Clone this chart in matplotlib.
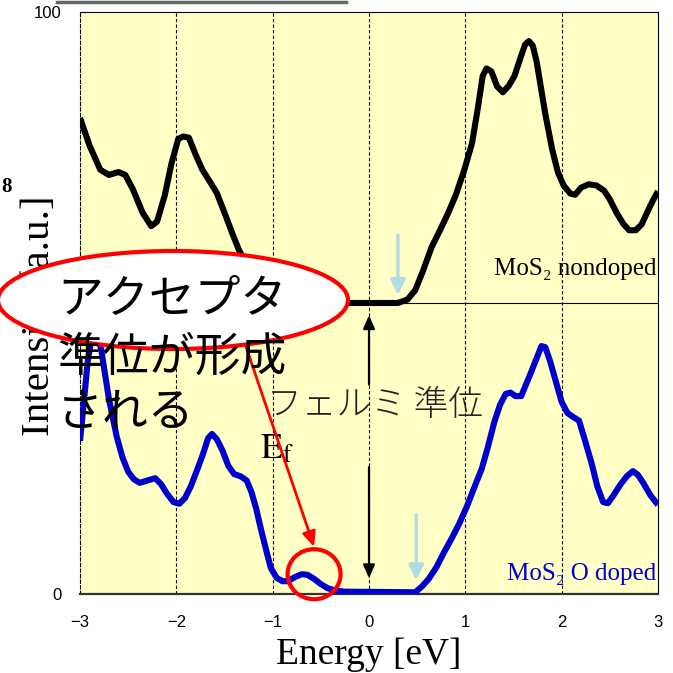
import matplotlib
matplotlib.use("Agg")
import matplotlib.pyplot as plt
from matplotlib.patches import Ellipse
from matplotlib.lines import Line2D

plt.rcParams["mathtext.fontset"] = "stix"

# spectra (energy in eV, intensity in a.u.)
energy_nondoped = [
    -3.00, -2.90, -2.79, -2.70, -2.60, -2.53, -2.45, -2.35, -2.26, -2.20,
    -2.12, -2.05, -1.98, -1.93, -1.87, -1.80, -1.73, -1.65, -1.58, -1.50,
    -1.42, -1.35, -1.25, -1.10, -0.95, -0.80, 0.30, 0.40, 0.48, 0.56,
    0.65, 0.74, 0.82, 0.90, 0.99, 1.07, 1.13, 1.18, 1.22, 1.27,
    1.33, 1.39, 1.45, 1.51, 1.57, 1.62, 1.66, 1.70, 1.74, 1.78, 1.83,
    1.90, 1.96, 2.02, 2.09, 2.14, 2.20, 2.28, 2.36, 2.44, 2.50,
    2.57, 2.64, 2.70, 2.77, 2.83, 2.90, 2.95, 3.00,
]
intensity_nondoped = [
    81.8, 77.0, 72.9, 72.0, 72.5, 72.0, 69.5, 65.5, 63.2, 64.0,
    68.5, 74.0, 78.2, 78.6, 78.4, 75.5, 72.9, 70.8, 68.9, 65.5,
    62.0, 59.1, 56.0, 52.5, 50.6, 50.0, 50.0, 50.6, 52.2, 55.5,
    59.6, 62.6, 65.4, 68.5, 72.9, 77.5, 83.5, 89.0, 90.3, 89.8,
    87.2, 86.2, 87.3, 89.0, 92.0, 94.4, 95.0, 94.2, 91.5, 87.5, 82.5,
    76.5, 72.5, 70.2, 68.8, 68.6, 69.8, 70.4, 70.2, 69.3, 67.8,
    65.5, 63.6, 62.5, 62.5, 63.5, 66.0, 67.7, 69.2,
]

energy_doped = [
    -3.00, -2.96, -2.92, -2.88, -2.82, -2.78, -2.70, -2.62, -2.56, -2.50,
    -2.44, -2.38, -2.30, -2.22, -2.16, -2.10, -2.03, -1.97, -1.91, -1.85,
    -1.78, -1.72, -1.67, -1.63, -1.58, -1.52, -1.46, -1.40, -1.33, -1.27,
    -1.22, -1.17, -1.12, -1.07, -1.02, -0.96, -0.90, -0.84, -0.77, -0.70,
    -0.64, -0.57, -0.50, -0.43, -0.35, -0.25, 0.48, 0.55, 0.62, 0.70,
    0.78, 0.86, 0.94, 1.02, 1.10, 1.17, 1.23, 1.30, 1.36, 1.42,
    1.47, 1.52, 1.58, 1.63, 1.68, 1.74, 1.79, 1.83, 1.88, 1.94,
    2.00, 2.06, 2.12, 2.18, 2.24, 2.31, 2.37, 2.43, 2.48, 2.54,
    2.61, 2.68, 2.74, 2.79, 2.85, 2.92, 3.00,
]
intensity_doped = [
    26.3, 33.0, 40.0, 44.0, 44.5, 42.0, 33.5, 27.1, 23.5, 21.0,
    19.7, 19.1, 19.5, 19.9, 18.9, 17.3, 15.8, 15.5, 16.5, 18.5,
    21.5, 24.2, 26.8, 27.5, 26.6, 24.6, 22.0, 20.6, 20.2, 19.5,
    17.5, 14.6, 11.0, 7.7, 4.5, 2.8, 2.2, 2.2, 2.9, 3.4,
    3.3, 2.6, 1.7, 1.0, 0.6, 0.4, 0.3, 1.3, 2.6, 4.6,
    7.2, 9.6, 12.2, 15.2, 18.6, 21.5, 25.0, 29.5, 32.5, 34.4,
    34.6, 34.0, 34.0, 36.0, 38.0, 40.5, 42.6, 42.4, 40.0, 36.5,
    33.0, 31.1, 30.4, 29.8, 26.5, 22.5, 18.5, 15.8, 15.6, 17.0,
    18.8, 20.3, 21.1, 20.5, 19.0, 17.0, 15.3,
]

x_ticks = [-3, -2, -1, 0, 1, 2, 3]
x_tick_labels = ["\u22123", "\u22122", "\u22121", "0", "1", "2", "3"]
y_ticks = [0, 100]
nondoped_offset = 50
fermi_level = 0.0
cbm_nondoped = 0.30
cbm_doped = 0.49
acceptor_peak = (-0.57, 3.4)

serif = ["Liberation Serif", "DejaVu Serif"]
jp = ["Noto Sans CJK JP", "DejaVu Sans"]

fig = plt.figure(figsize=(6.73, 6.73), dpi=100)
ax = fig.add_axes([0.1189, 0.1174, 0.8588, 0.8648])
ax.set_facecolor("#FFFFC6")

ax.plot(energy_nondoped, intensity_nondoped, color="black", lw=4.4,
        solid_joinstyle="round", solid_capstyle="butt", zorder=4)
ax.plot(energy_doped, intensity_doped, color="#0000CC", lw=4.4,
        solid_joinstyle="round", solid_capstyle="butt", zorder=4)
ax.axhline(nondoped_offset, color="black", lw=0.8, zorder=3)

for xv in x_ticks[1:-1]:
    ax.axvline(xv, color="black", lw=0.8, ls=(0, (3, 2)), zorder=1)

ax.set_xlim(-3, 3)
ax.set_ylim(0, 100)
ax.set_xticks(x_ticks)
ax.set_xticklabels(x_tick_labels, family="Liberation Sans", fontsize=12)
ax.set_yticks(y_ticks)
ax.set_yticklabels([str(v) for v in y_ticks], family="Liberation Sans", fontsize=12)
ax.tick_params(axis="x", length=0, pad=15)
ax.tick_params(axis="y", length=0, pad=13)

ax.spines["left"].set_linestyle((0, (3, 2)))
ax.spines["left"].set_linewidth(0.8)
ax.spines["top"].set_linewidth(0.8)
ax.spines["right"].set_linewidth(0.8)
ax.spines["bottom"].set_linewidth(1.6)
ax.spines["bottom"].set_color("#333333")

ax.set_xlabel("Energy [eV]", family=serif, fontsize=27)
ax.xaxis.set_label_coords(0.5, -0.075)
ax.set_ylabel("Intensity [a.u.]", family=serif, fontsize=29.5)
ax.yaxis.set_label_coords(-0.038, 0.478)

# band-edge markers
arrow_blue = dict(arrowstyle="-|>,head_length=0.9,head_width=0.45",
                  color="#B0DDE4", lw=2.4, shrinkA=0, shrinkB=0)
ax.annotate("", xy=(cbm_nondoped, 51.4), xytext=(cbm_nondoped, 61.7),
            arrowprops=arrow_blue, zorder=5)
ax.annotate("", xy=(cbm_doped, 2.4), xytext=(cbm_doped, 13.6),
            arrowprops=arrow_blue, zorder=5)

# Fermi level double arrow (split around the label)
arrow_black = dict(arrowstyle="-|>,head_length=0.8,head_width=0.35",
                   color="black", lw=1.6, shrinkA=0, shrinkB=0)
ax.annotate("", xy=(fermi_level, 47.9), xytext=(fermi_level, 36.0),
            arrowprops=arrow_black, zorder=5)
ax.annotate("", xy=(fermi_level, 2.7), xytext=(fermi_level, 21.8),
            arrowprops=arrow_black, zorder=5)

ax.text(0.06, 32.5, "\u30d5\u30a7\u30eb\u30df \u6e96\u4f4d", family=jp,
        fontsize=25, fontweight="light", color="#222222",
        ha="center", va="center", zorder=6)
ax.text(-0.95, 25.0, r"$\mathrm{E}_{\mathrm{f}}$", fontsize=26,
        ha="center", va="center", zorder=6)

ax.text(2.98, 54.0, "MoS\u2082 nondoped", family=serif, fontsize=18,
        ha="right", va="bottom", zorder=6)
ax.text(2.98, 3.5, "MoS\u2082 O doped", family=serif, fontsize=18,
        color="#0000CC", ha="right", va="center", zorder=6)

# acceptor level highlight
ax.add_patch(Ellipse(acceptor_peak, width=0.55, height=8.6, fill=False,
                     edgecolor="red", lw=3.0, zorder=7, clip_on=False))
ax.annotate("", xy=(acceptor_peak[0], 8.1), xytext=(-1.29, 43.1),
            arrowprops=dict(arrowstyle="-|>,head_length=0.9,head_width=0.4",
                            color="red", lw=2.0, shrinkA=0, shrinkB=0),
            zorder=6, annotation_clip=False)

# callout bubble
fig.add_artist(Ellipse((173 / 673, 1 - 300 / 673), width=350 / 673,
                       height=98 / 673, facecolor="white", edgecolor="red",
                       lw=3.0, zorder=5, transform=fig.transFigure))
for line, y in [("\u30a2\u30af\u30bb\u30d7\u30bf", 300),
                ("\u6e96\u4f4d\u304c\u5f62\u6210", 357),
                ("\u3055\u308c\u308b", 413)]:
    fig.text(57 / 673, 1 - y / 673, line, family=jp, fontsize=33,
             ha="left", va="center", zorder=6)

fig.text(1 / 673, 1 - 187 / 673, "8", family=serif, fontsize=15,
         fontweight="bold", ha="left", va="center")
fig.add_artist(Line2D([57 / 673, 346 / 673], [1 - 1.5 / 673, 1 - 1.5 / 673],
                      color="#666666", lw=2.5, transform=fig.transFigure))

fig.savefig("out.png", dpi=100)
